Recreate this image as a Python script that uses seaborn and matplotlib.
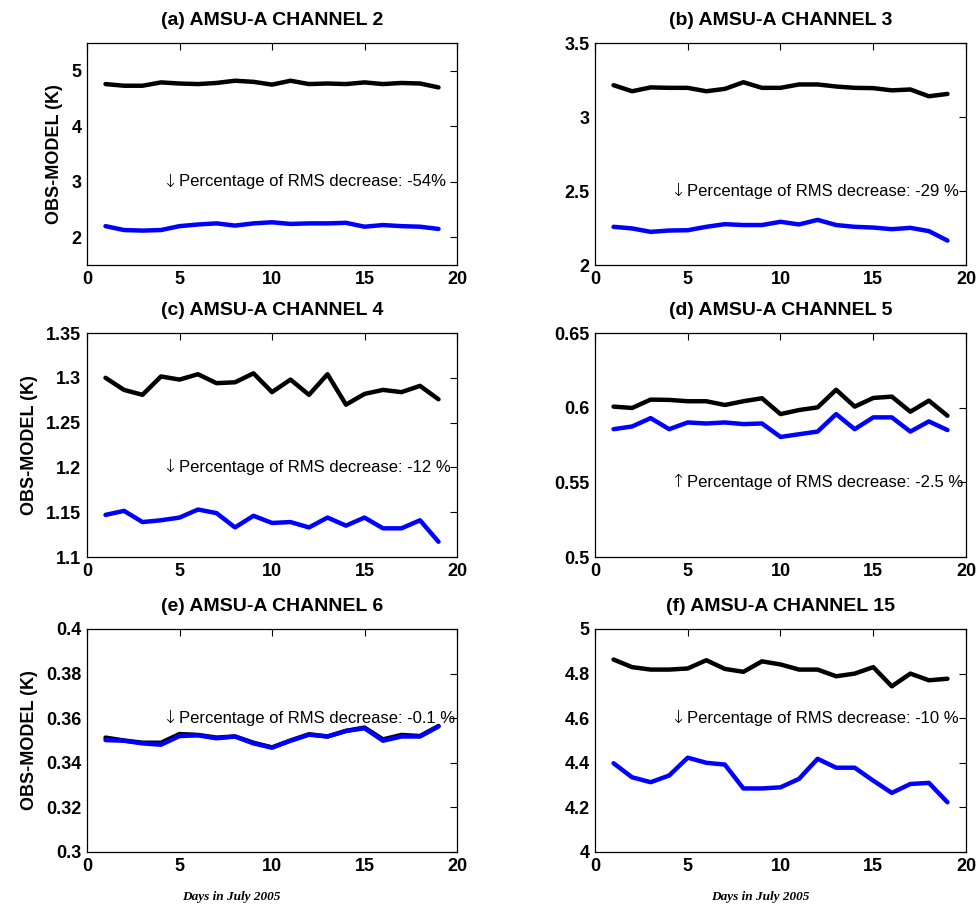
import numpy as np
import pandas as pd
import matplotlib
matplotlib.use("Agg")
import matplotlib.pyplot as plt
from matplotlib.ticker import FuncFormatter
import seaborn as sns

sns.set_style("white")
plt.rcParams['font.family'] = ['Liberation Sans', 'DejaVu Sans']
plt.rcParams['text.color'] = 'black'
plt.rcParams['axes.labelcolor'] = 'black'
plt.rcParams['xtick.color'] = 'black'
plt.rcParams['ytick.color'] = 'black'
plt.rcParams['axes.titlecolor'] = 'black'

days = list(range(1, 20))

titles = ["(a) AMSU-A CHANNEL 2", "(b) AMSU-A CHANNEL 3", "(c) AMSU-A CHANNEL 4",
          "(d) AMSU-A CHANNEL 5", "(e) AMSU-A CHANNEL 6", "(f) AMSU-A CHANNEL 15"]

ch2_before = [4.76, 4.73, 4.73, 4.79, 4.77, 4.76, 4.78, 4.82, 4.80, 4.75, 4.82, 4.76, 4.77, 4.76, 4.79, 4.76, 4.78, 4.77, 4.70]
ch2_after = [2.20, 2.13, 2.12, 2.13, 2.20, 2.23, 2.25, 2.21, 2.25, 2.27, 2.24, 2.25, 2.25, 2.26, 2.19, 2.22, 2.20, 2.19, 2.15]

ch3_before = [3.215, 3.174, 3.200, 3.197, 3.197, 3.174, 3.190, 3.235, 3.197, 3.197, 3.220, 3.220, 3.206, 3.197, 3.195, 3.180, 3.186, 3.140, 3.156]
ch3_after = [2.258, 2.247, 2.224, 2.233, 2.235, 2.258, 2.276, 2.270, 2.270, 2.292, 2.274, 2.305, 2.270, 2.258, 2.253, 2.242, 2.251, 2.229, 2.165]

ch4_before = [1.300, 1.2865, 1.281, 1.3015, 1.298, 1.304, 1.294, 1.295, 1.305, 1.284, 1.298, 1.281, 1.304, 1.270, 1.282, 1.2865, 1.284, 1.291, 1.276]
ch4_after = [1.147, 1.1515, 1.139, 1.141, 1.144, 1.153, 1.149, 1.133, 1.146, 1.138, 1.139, 1.133, 1.144, 1.135, 1.144, 1.132, 1.132, 1.141, 1.117]

ch5_before = [0.6007, 0.5998, 0.6054, 0.6052, 0.6043, 0.6043, 0.6018, 0.6043, 0.6063, 0.5957, 0.5984, 0.6002, 0.6120, 0.6007, 0.6065, 0.6074, 0.5973, 0.6047, 0.5946]
ch5_after = [0.5856, 0.5874, 0.5930, 0.5856, 0.5901, 0.5894, 0.5901, 0.5890, 0.5894, 0.5804, 0.5822, 0.5840, 0.5957, 0.5856, 0.5935, 0.5935, 0.5840, 0.5908, 0.5850]

ch6_before = [0.3513, 0.3500, 0.3490, 0.3490, 0.3529, 0.3525, 0.3513, 0.3518, 0.3490, 0.3469, 0.3500, 0.3528, 0.3518, 0.3543, 0.3558, 0.3505, 0.3525, 0.3520, 0.3565]
ch6_after = [0.3502, 0.3499, 0.3487, 0.3481, 0.3520, 0.3523, 0.3510, 0.3518, 0.3487, 0.3468, 0.3499, 0.3526, 0.3518, 0.3543, 0.3555, 0.3499, 0.3518, 0.3518, 0.3563]

ch15_before = [4.863, 4.829, 4.818, 4.818, 4.823, 4.860, 4.821, 4.808, 4.855, 4.841, 4.818, 4.818, 4.788, 4.800, 4.829, 4.743, 4.800, 4.770, 4.777]
ch15_after = [4.398, 4.335, 4.313, 4.343, 4.423, 4.400, 4.392, 4.285, 4.285, 4.290, 4.328, 4.418, 4.378, 4.378, 4.320, 4.265, 4.305, 4.310, 4.223]

before = [ch2_before, ch3_before, ch4_before, ch5_before, ch6_before, ch15_before]
after = [ch2_after, ch3_after, ch4_after, ch5_after, ch6_after, ch15_after]

ylims = [(1.5, 5.5), (2, 3.5), (1.1, 1.35), (0.5, 0.65), (0.3, 0.4), (4, 5)]
yticks = [[2, 3, 4, 5], [2, 2.5, 3, 3.5], [1.1, 1.15, 1.2, 1.25, 1.3, 1.35],
          [0.5, 0.55, 0.6, 0.65], [0.3, 0.32, 0.34, 0.36, 0.38, 0.4],
          [4, 4.2, 4.4, 4.6, 4.8, 5]]
arrows = ["\u2193", "\u2193", "\u2193", "\u2191", "\u2193", "\u2193"]
notes = ["Percentage of RMS decrease: -54%",
         "Percentage of RMS decrease: -29 %",
         "Percentage of RMS decrease: -12 %",
         "Percentage of RMS decrease: -2.5 %",
         "Percentage of RMS decrease: -0.1 %",
         "Percentage of RMS decrease: -10 %"]
note_y = [3.0, 2.5, 1.2, 0.55, 0.36, 4.6]
xticks = [0, 5, 10, 15, 20]

W, H = 979, 907
fig = plt.figure(figsize=(W / 100, H / 100), dpi=100)

lefts = [87, 595]
widths = [370, 371]
rows = [(43, 265), (333, 557), (629, 852)]

for i in range(6):
    r, c = divmod(i, 2)
    top, bot = rows[r]
    ax = fig.add_axes([lefts[c] / W, 1 - bot / H, widths[c] / W, (bot - top) / H])
    df = pd.DataFrame({"day": days, "before": before[i], "after": after[i]})
    sns.lineplot(data=df, x="day", y="before", ax=ax, color="black", lw=3.2)
    sns.lineplot(data=df, x="day", y="after", ax=ax, color="#0000ff", lw=3.2)
    ax.set_xlim(0, 20)
    ax.set_ylim(*ylims[i])
    ax.set_xticks(xticks)
    ax.set_yticks(yticks[i])
    ax.yaxis.set_major_formatter(FuncFormatter(lambda v, p: ("%g" % round(v, 4))))
    ax.tick_params(direction="in", length=5, width=0.8, top=True, right=True,
                   labelsize=13, pad=4, color="black")
    for lab in ax.get_xticklabels() + ax.get_yticklabels():
        lab.set_fontweight("bold")
    for s in ax.spines.values():
        s.set_visible(True)
        s.set_color("black")
        s.set_linewidth(0.9)
    ax.set_xlabel("")
    if c == 0:
        ax.set_ylabel("OBS-MODEL (K)", fontsize=13, fontweight="bold", labelpad=6)
    else:
        ax.set_ylabel("")
    ax.set_title(titles[i], fontsize=14, fontweight="bold", pad=13)
    ax.text(4.05, note_y[i], arrows[i], fontsize=13, va="center", ha="left",
            family="DejaVu Sans", fontweight="light")
    ax.text(4.95, note_y[i], notes[i], fontsize=12, va="center", ha="left")

for xc in [231, 760]:
    fig.text(xc / W, 1 - 897 / H, "Days in July 2005", fontsize=9.5, ha="center", va="center",
             family="Liberation Serif", fontweight="bold", fontstyle="italic")

fig.savefig("out.png", dpi=100)
